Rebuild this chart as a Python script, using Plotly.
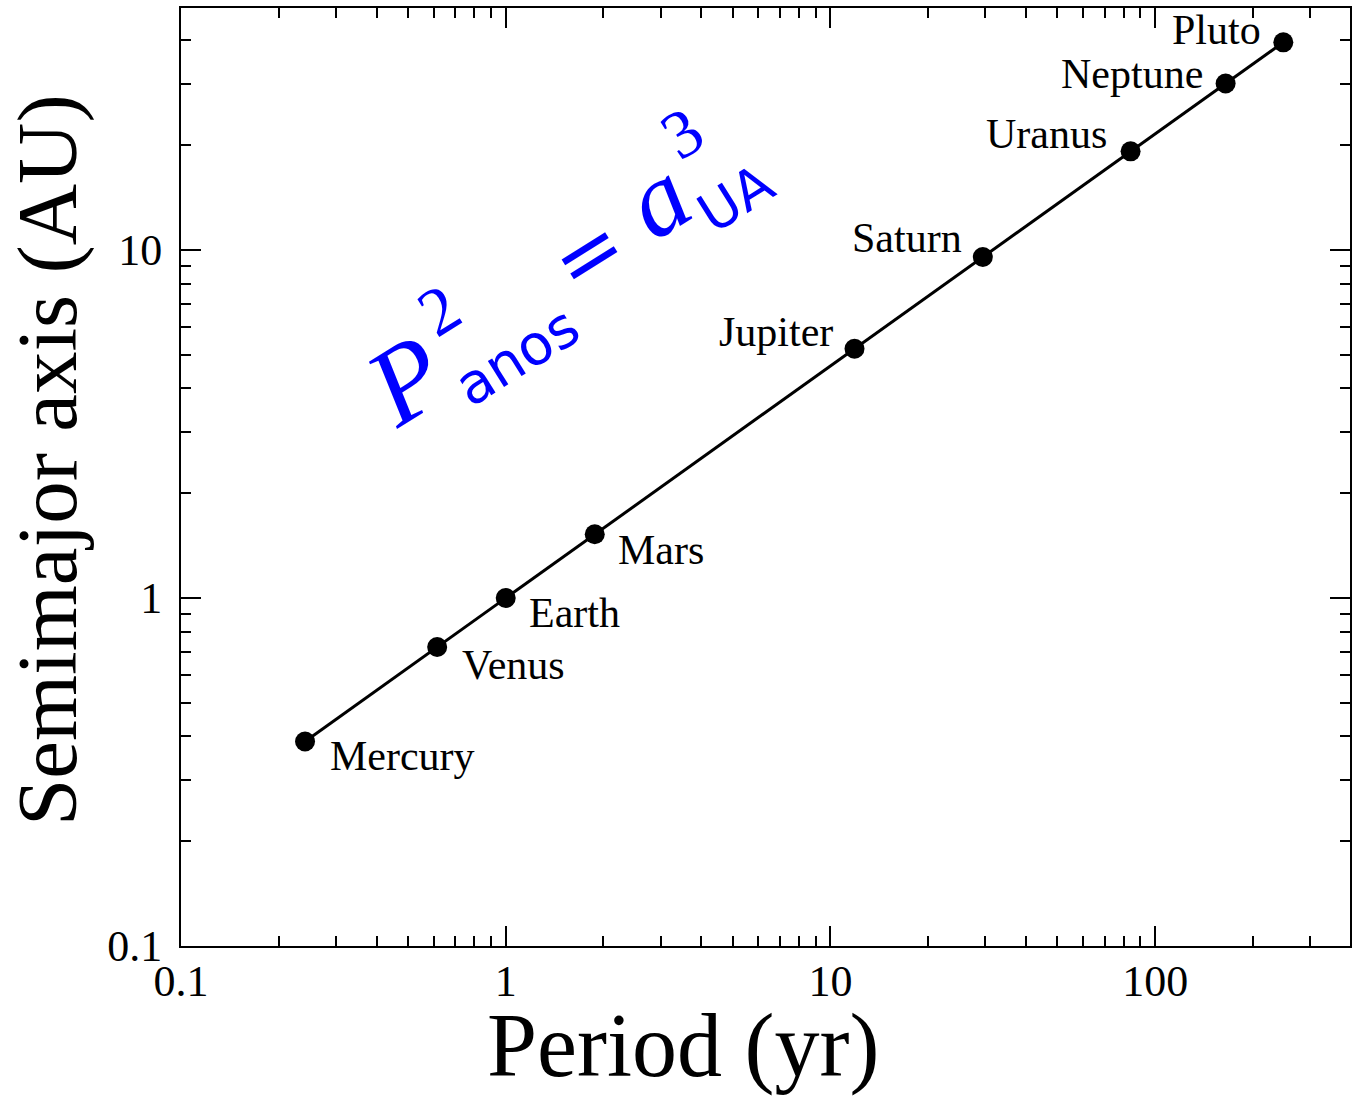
import numpy as np
import plotly.graph_objects as go

planets = ["Mercury", "Venus", "Earth", "Mars", "Jupiter", "Saturn", "Uranus", "Neptune", "Pluto"]
period_yr = [0.241, 0.615, 1.0, 1.88, 11.86, 29.46, 84.01, 164.8, 248.1]
semimajor_au = [0.387, 0.723, 1.0, 1.524, 5.20, 9.54, 19.19, 30.07, 39.48]
# label offsets (pixels) and anchors
label_dx = [23, 23, 21, 21, -20, -19, -22, -21, -20]
label_dy = [-15, -18, -15, -16, 17, 19, 17, 9, 12]
label_anchor = ["left", "left", "left", "left", "right", "right", "right", "right", "right"]

x_ticks = [0.1, 1, 10, 100]
x_ticklabels = ["0.1", "1", "10", "100"]
y_ticks = [0.1, 1, 10]
y_ticklabels = ["0.1", "1", "10"]
x_minor = [m * d for d in (0.1, 1, 10, 100) for m in range(2, 10)]
y_minor = [m * d for d in (0.1, 1, 10) for m in range(2, 10)]

SERIF = "Liberation Serif, Times New Roman, serif"
BLUE = "#0000ff"

W, H = 1356, 1096
L, R, T, B = 181, 6, 8, 150
PW, PH = W - L - R, H - T - B


def to_paper(xp, yp):
    return (xp - L) / PW, (H - B - yp) / PH


fig = go.Figure()
fig.add_trace(go.Scatter(
    x=period_yr, y=semimajor_au, mode="lines+markers",
    line=dict(color="black", width=3),
    marker=dict(color="black", size=20),
    showlegend=False, hoverinfo="skip"))

for name, px_, py_, dx, dy, anc in zip(planets, period_yr, semimajor_au, label_dx, label_dy, label_anchor):
    fig.add_annotation(x=np.log10(px_), y=np.log10(py_), xref="x", yref="y", text=name, showarrow=False,
                       xanchor=anc, yanchor="middle", xshift=dx, yshift=dy,
                       font=dict(family=SERIF, size=42, color="black"))

axis_common = dict(type="log", showline=True, linecolor="black", linewidth=2, mirror="ticks",
                   ticks="inside", ticklen=20, tickwidth=2, tickcolor="black",
                   showgrid=False, zeroline=False, automargin=False,
                   tickfont=dict(family=SERIF, size=44, color="black"))

fig.update_xaxes(**axis_common, range=[-1, 2.6], tickvals=x_ticks, ticktext=x_ticklabels,
                 ticklabelstandoff=-5,
                 minor=dict(ticks="inside", ticklen=10, tickwidth=2, tickcolor="black",
                            showgrid=False, tickvals=x_minor))
fig.update_yaxes(**axis_common, range=[-1, 1.695], tickvals=y_ticks, ticktext=y_ticklabels,
                 ticklabelstandoff=8,
                 minor=dict(ticks="inside", ticklen=10, tickwidth=2, tickcolor="black",
                            showgrid=False, tickvals=y_minor))

# axis titles
ax, ay = to_paper(683, 1046)
fig.add_annotation(x=ax, y=ay, xref="paper", yref="paper", text="Period (yr)",
                   showarrow=False, font=dict(family=SERIF, size=90, color="black"),
                   xanchor="center", yanchor="middle")
ax, ay = to_paper(47, 460)
fig.add_annotation(x=ax, y=ay, xref="paper", yref="paper", text="Semimajor axis (AU)",
                   textangle=-90, showarrow=False, font=dict(family=SERIF, size=85, color="black"),
                   xanchor="center", yanchor="middle")

# formula pieces: (text, family, size, italic, center pixel x, y)
pieces = [
    ("P", "Liberation Serif", 110, True, 406, 380),
    ("2", "Liberation Serif", 68, False, 439, 310),
    ("anos", "DejaVu Sans", 56, False, 516, 356),
    ("=", "DejaVu Sans", 82, False, 588, 254),
    ("a", "Liberation Serif", 105, True, 657, 199),
    ("3", "Liberation Serif", 68, False, 682, 133),
    ("UA", "DejaVu Sans", 54, False, 736, 199),
]
for txt, fam, size, ital, xp, yp in pieces:
    ax, ay = to_paper(xp, yp)
    fig.add_annotation(x=ax, y=ay, xref="paper", yref="paper",
                       text=f"<i>{txt}</i>" if ital else txt, textangle=-32,
                       showarrow=False, font=dict(family=fam, size=size, color=BLUE),
                       xanchor="center", yanchor="middle")

fig.update_layout(width=W, height=H, margin=dict(l=L, r=R, t=T, b=B),
                  plot_bgcolor="white", paper_bgcolor="white")

fig.write_html("out.html", config={"displayModeBar": False},
               post_script="document.body.style.margin='0';document.body.style.overflow='hidden';")
